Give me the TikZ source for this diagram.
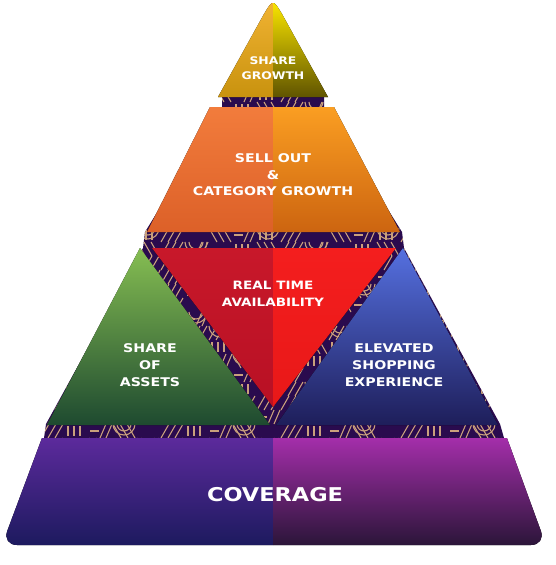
\documentclass[tikz,border=0pt]{standalone}
\usepackage{fontspec}
\newfontfamily\tierfont[FakeStretch=1.18]{DejaVu Sans}
\definecolor{bandpurple}{HTML}{2A0B4E}
\definecolor{patterngold}{HTML}{C9A07C}
\definecolor{goldL}{HTML}{F0B232}
\definecolor{goldLb}{HTML}{C8920E}
\definecolor{goldR}{HTML}{F8E400}
\definecolor{goldRm}{HTML}{C2AA00}
\definecolor{goldRb}{HTML}{5E5200}
\definecolor{orangeL}{HTML}{F27C3C}
\definecolor{orangeLb}{HTML}{DC6028}
\definecolor{orangeR}{HTML}{FA9E22}
\definecolor{orangeRb}{HTML}{CC6410}
\definecolor{redL}{HTML}{C8182A}
\definecolor{redLb}{HTML}{B81024}
\definecolor{redR}{HTML}{F41E1E}
\definecolor{redRb}{HTML}{E81818}
\definecolor{greenT}{HTML}{86BE52}
\definecolor{greenB}{HTML}{1E4A30}
\definecolor{blueT}{HTML}{5570E0}
\definecolor{blueB}{HTML}{1E1E5A}
\definecolor{covLT}{HTML}{5C2A9C}
\definecolor{covLB}{HTML}{1C1A5E}
\definecolor{covRT}{HTML}{A42EAA}
\definecolor{covRB}{HTML}{2A1538}
\tikzset{
  patline/.style={draw=patterngold, line width=1.1pt},
  tiertext/.style 2 args={text=white, align=center, inner sep=0pt,
    font=\tierfont\bfseries\fontsize{#1}{#2}\selectfont},
}
\begin{document}
\begin{tikzpicture}[x=1pt,y=-1pt]
\useasboundingbox (0,0) rectangle (556,565);

% dark backing with gold circuit strokes
\path[fill=bandpurple] (222,96) -- (324,96) -- (324,107) -- (402,232) -- (404,248)
  -- (500,424) -- (504,438) -- (44,438) -- (46,424) -- (143,248) -- (145,232)
  -- (222,107) -- cycle;
\begin{scope}
  \clip (222,96) -- (324,96) -- (324,107) -- (402,232) -- (404,248)
    -- (500,424) -- (504,438) -- (44,438) -- (46,424) -- (143,248) -- (145,232)
    -- (222,107) -- cycle;
  \foreach \i in {0,...,19} {
    \foreach \j in {0,...,25} {
      \pgfmathsetmacro\cx{40+\i*24}
      \pgfmathsetmacro\cy{88+\j*14}
      \pgfmathtruncatemacro\m{mod(\i*3+\j*5+\i*\j,5)}
      \ifcase\m
        \foreach \s in {0,7,14} {\draw[patline] (\cx+\s+1,\cy+14) -- ++(8,-14);}
      \or
        \foreach \s in {0,7,14} {\draw[patline] (\cx+\s+1,\cy) -- ++(8,14);}
      \or
        \foreach \s in {4,10,16} {\draw[patline] (\cx+\s,\cy+2) -- ++(0,10);}
      \or
        \draw[patline] (\cx+5,\cy+14) arc[start angle=180, end angle=0, radius=7];
        \draw[patline] (\cx+1,\cy+14) arc[start angle=180, end angle=0, radius=11];
      \else
        \draw[patline] (\cx+2,\cy+7) -- ++(9,0);
        \foreach \s in {12,18} {\draw[patline] (\cx+\s,\cy+14) -- ++(6,-14);}
      \fi
    }
  }
\end{scope}

% base tier: sharp top corners, rounded bottom corners
\begin{scope}
  \clip (0,438) rectangle (556,565);
  \clip[rounded corners=15pt] (48.7,420) -- (500.4,420) -- (546,545) -- (2,545) -- cycle;
  \fill[top color=covLT, bottom color=covLB] (0,438) rectangle (273,546);
  \fill[top color=covRT, bottom color=covRB] (273,438) rectangle (556,546);
\end{scope}

% left triangle
\fill[top color=greenT, bottom color=greenB] (140,248) -- (270,425) -- (47,425) -- cycle;
% right triangle
\fill[top color=blueT, bottom color=blueB] (403,248) -- (498,425) -- (276,425) -- cycle;

% inverted middle triangle
\begin{scope}
  \clip (152,248) -- (396,248) -- (273,407) -- cycle;
  \fill[top color=redL, bottom color=redLb] (150,248) rectangle (273,408);
  \fill[top color=redR, bottom color=redRb] (273,248) rectangle (398,408);
\end{scope}

% second tier
\begin{scope}
  \clip (210,107) -- (334,107) -- (400,232) -- (147,232) -- cycle;
  \fill[top color=orangeL, bottom color=orangeLb] (146,107) rectangle (273,233);
  \fill[top color=orangeR, bottom color=orangeRb] (273,107) rectangle (401,233);
\end{scope}

% apex
\begin{scope}
  \clip (218,97) -- (264,14) .. controls (273,-1) .. (282,14) -- (328,97) -- cycle;
  \fill[top color=goldL, bottom color=goldLb] (216,3) rectangle (273,98);
  \fill[top color=goldR, middle color=goldRm, bottom color=goldRb] (273,3) rectangle (330,98);
\end{scope}

% labels
\node[tiertext={10.5}{15}] (share) at (273,68) {SHARE\\GROWTH};
\node[tiertext={12}{16.5}] (sellout) at (273,175) {SELL OUT\\\&\\CATEGORY GROWTH};
\node[tiertext={11.5}{17}] (rta) at (273,294) {REAL TIME\\AVAILABILITY};
\node[tiertext={12}{17}] (assets) at (150,365) {SHARE\\OF\\ASSETS};
\node[tiertext={12}{17}] (shopping) at (394,365) {ELEVATED\\SHOPPING\\EXPERIENCE};
\node[tiertext={19}{22}] (coverage) at (275,495) {COVERAGE};
\end{tikzpicture}
\end{document}
